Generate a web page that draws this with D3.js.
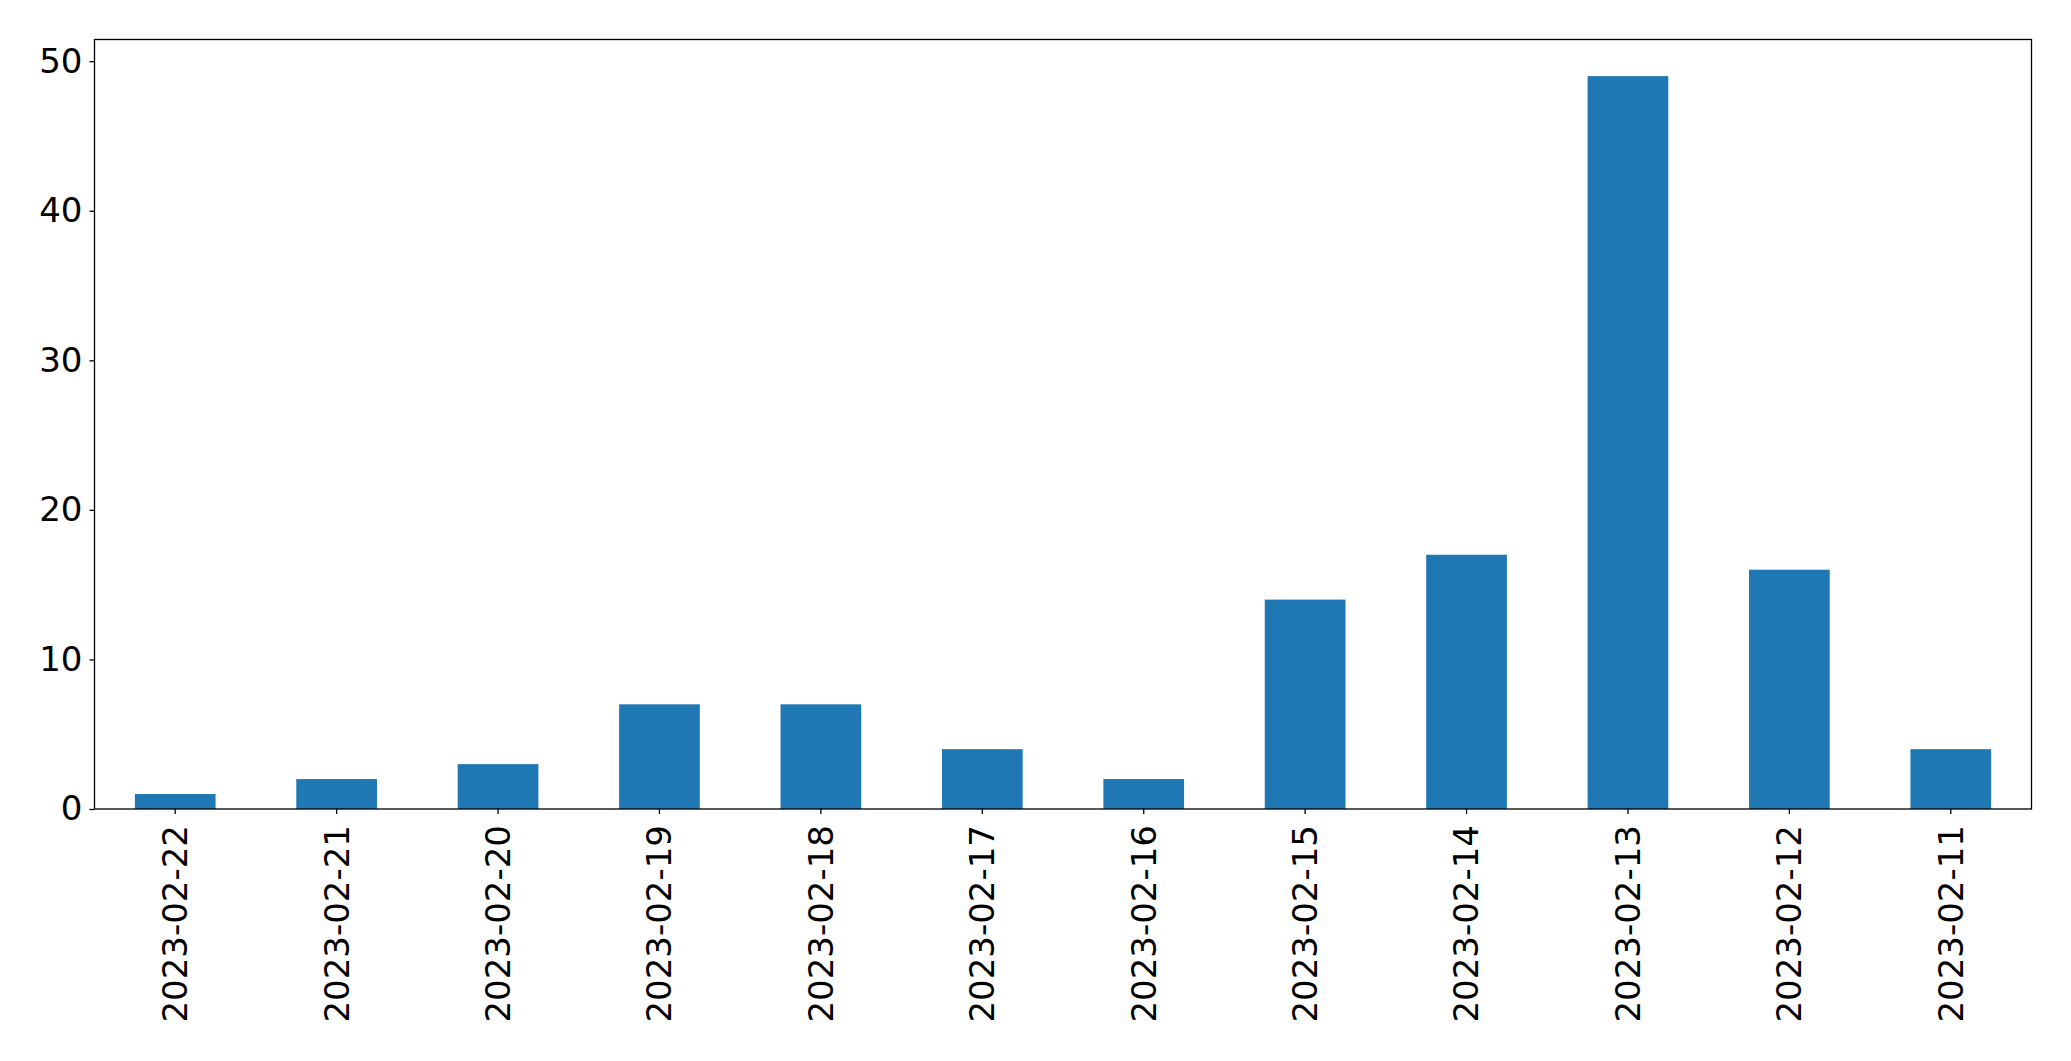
<!DOCTYPE html>
<html><head><meta charset="utf-8">
<script src="https://cdn.jsdelivr.net/npm/d3@7"></script>
<style>body{margin:0;background:#fff}svg{display:block}text{font-family:"DejaVu Sans",sans-serif}</style>
</head><body>
<script>
const categories = ["2023-02-22","2023-02-21","2023-02-20","2023-02-19","2023-02-18","2023-02-17","2023-02-16","2023-02-15","2023-02-14","2023-02-13","2023-02-12","2023-02-11"];
const values = [1,2,3,7,7,4,2,14,17,49,16,4];
const yTicks = [0,10,20,30,40,50];

const W=2071,H=1061;
const m={left:94.5,right:2031.5,top:39.5,bottom:809};
const FS=34;
const svg=d3.select("body").append("svg").attr("width",W).attr("height",H);
const x=d3.scaleBand().domain(categories).range([m.left,m.right]).paddingInner(0.5).paddingOuter(0.25);
const y=d3.scaleLinear().domain([0,d3.max(values)*1.05]).range([m.bottom,m.top]);

svg.append("g").selectAll("rect").data(values).join("rect")
  .attr("x",(d,i)=>x(categories[i])).attr("width",x.bandwidth())
  .attr("y",d=>y(d)).attr("height",d=>y(0)-y(d)).attr("fill","#1f77b4");

const ya=svg.append("g").attr("transform",`translate(${m.left},0)`)
  .call(d3.axisLeft(y).tickValues(yTicks).tickSize(5).tickPadding(7).tickFormat(d3.format("d")));
ya.select(".domain").remove();
ya.selectAll("text").attr("font-size",FS).attr("fill","#000").attr("font-family","DejaVu Sans");
ya.selectAll("line").attr("stroke","#000").attr("stroke-width",1.3);

const xa=svg.append("g").attr("transform",`translate(0,${m.bottom})`)
  .call(d3.axisBottom(x).tickSize(5).tickPadding(6));
xa.select(".domain").remove();
xa.selectAll("line").attr("stroke","#000").attr("stroke-width",1.3);
xa.selectAll("text").attr("font-size",FS).attr("fill","#000").attr("font-family","DejaVu Sans")
  .attr("transform","rotate(-90)").attr("text-anchor","end").attr("dy","0.35em")
  .attr("x",-16).attr("y",0);

svg.append("rect").attr("x",m.left).attr("y",m.top).attr("width",m.right-m.left).attr("height",m.bottom-m.top)
  .attr("fill","none").attr("stroke","#000").attr("stroke-width",1.3);
</script>
</body></html>
